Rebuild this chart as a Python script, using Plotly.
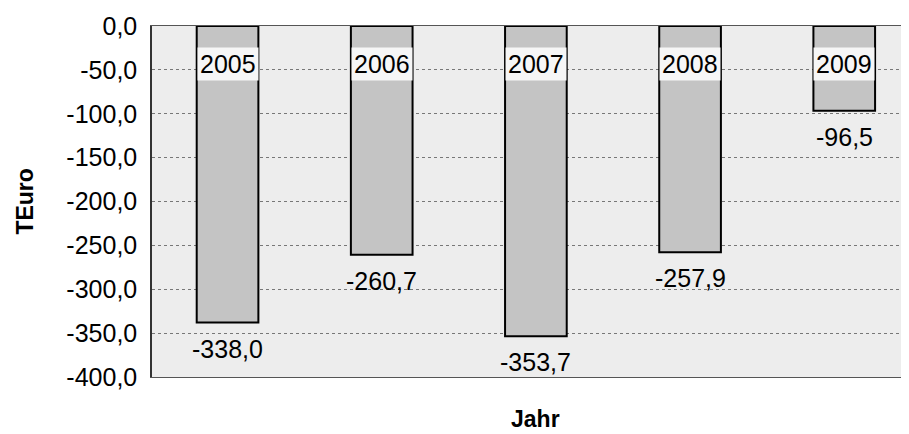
import plotly.graph_objects as go

jahre = ["2005", "2006", "2007", "2008", "2009"]
werte = [-338.0, -260.7, -353.7, -257.9, -96.5]
tick_werte = [0, -50, -100, -150, -200, -250, -300, -350, -400]
tick_text = ["0,0", "-50,0", "-100,0", "-150,0", "-200,0", "-250,0", "-300,0", "-350,0", "-400,0"]

# Beschriftung mit Komma wie im Original
wert_text = [f"{w:.1f}".replace(".", ",") for w in werte]

fig = go.Figure()
fig.add_trace(go.Bar(
    x=jahre, y=werte,
    width=0.4,
    marker=dict(color="#c4c4c4", line=dict(color="black", width=2)),
))

# Jahreszahlen oben im Balken, Werte unter dem Balkenende
# (x als Index, sonst wird "2005" als Position gelesen)
for i, j in enumerate(jahre):
    fig.add_annotation(x=i, y=-43, text=j, showarrow=False,
                       font=dict(size=25, color="black", family="Liberation Sans"),
                       bgcolor="#f6f6f6", borderpad=2)
    fig.add_annotation(x=i, y=werte[i], text=wert_text[i], showarrow=False,
                       yanchor="middle", yshift=-26,
                       font=dict(size=25, color="black", family="Liberation Sans"))

fig.add_annotation(xref="paper", yref="paper", x=-0.169, y=0.5, xanchor="center",
                   text="<b>TEuro</b>", textangle=-90, showarrow=False,
                   font=dict(size=23, color="black"))
fig.add_annotation(xref="paper", yref="paper", x=0.507, y=-0.12, yanchor="middle",
                   text="<b>Jahr</b>", showarrow=False, font=dict(size=23, color="black"))

# die Seite hat 8px Rand, daher Figur etwas kleiner
fig.update_layout(
    width=901, height=426,
    margin=dict(l=144, r=0, t=18, b=57),
    paper_bgcolor="white", plot_bgcolor="#ededed",
    showlegend=False,
    font=dict(family="Liberation Sans", color="black"),
)
fig.update_xaxes(
    type="category", range=[-0.49, 4.42], automargin=False,
    showticklabels=False, showgrid=False,
    showline=True, linecolor="#555", mirror=True, linewidth=1,
)
fig.update_yaxes(
    range=[-400, 0], tickvals=tick_werte, ticktext=tick_text, automargin=False,
    tickfont=dict(size=25), ticks="", ticklabelstandoff=8,
    showgrid=True, gridcolor="#777", griddash="dot", gridwidth=1,
    zeroline=False,
    showline=True, linecolor="#333", linewidth=1.5,
)
fig.write_html("out.html")
